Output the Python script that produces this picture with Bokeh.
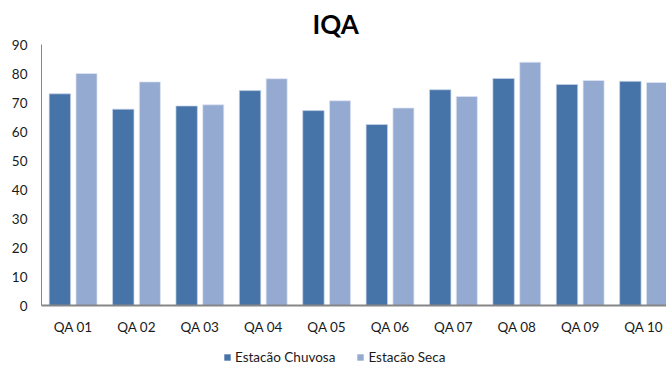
from bokeh.plotting import figure
from bokeh.layouts import column
from bokeh.models import Range1d, ColumnDataSource, Legend, LegendItem, FixedTicker
from bokeh.embed import file_html
from bokeh.resources import INLINE

categories = ["QA 01", "QA 02", "QA 03", "QA 04", "QA 05", "QA 06", "QA 07", "QA 08", "QA 09", "QA 10"]
chuvosa = [73.0, 67.7, 68.8, 74.1, 67.2, 62.4, 74.4, 78.3, 76.2, 77.3]
seca = [80.0, 77.1, 69.2, 78.2, 70.6, 68.1, 72.1, 83.9, 77.6, 76.9]
y_ticks = [0, 10, 20, 30, 40, 50, 60, 70, 80, 90]
series_names = ["Estacão Chuvosa", "Estacão Seca"]

FONT = "Lato"
TXT = "#1a1a1a"
C1, C2 = "#4673A8", "#95AAD1"

idx = list(range(len(categories)))
src = ColumnDataSource(dict(
    x1=[i + 0.29 for i in idx],
    x2=[i + 0.71 for i in idx],
    chuvosa=chuvosa,
    seca=seca,
))

p = figure(width=666, height=348, frame_width=625, frame_height=261,
           output_backend="svg", toolbar_location=None,
           x_range=Range1d(0, 9.86), y_range=Range1d(0, 90),
           min_border_left=41, min_border_right=0, min_border_top=44, min_border_bottom=43)
p.outline_line_color = None
p.grid.visible = False

p.title.text = "IQA"
p.title.align = "left"
p.title.text_font = FONT
p.title.text_font_size = "26px"
p.title.text_font_style = "bold"
p.title.text_color = "black"
p.title.offset = 271
p.title.standoff = 10

p.vbar(x="x1", top="chuvosa", width=0.338, source=src, fill_color=C1,
       line_color="#c9d5e8", line_width=1, line_alpha=0.7)
p.vbar(x="x2", top="seca", width=0.332, source=src, fill_color=C2,
       line_color="#dfe6f2", line_width=1, line_alpha=0.7)

p.yaxis.ticker = FixedTicker(ticks=y_ticks)
p.yaxis.axis_line_color = "#868686"
p.yaxis.major_tick_line_color = None
p.yaxis.minor_tick_line_color = None
p.yaxis.major_tick_out = 0
p.yaxis.major_label_text_font = FONT
p.yaxis.major_label_text_font_size = "13.5px"
p.yaxis.major_label_text_color = TXT
p.yaxis.major_label_standoff = 14

p.xaxis.ticker = FixedTicker(ticks=[i + 0.5 for i in idx])
p.xaxis.major_label_overrides = {i + 0.5: c for i, c in zip(idx, categories)}
p.xaxis.axis_line_color = "#868686"
p.xaxis.axis_line_width = 2
p.xaxis.major_tick_line_color = None
p.xaxis.minor_tick_line_color = None
p.xaxis.major_tick_out = 0
p.xaxis.major_label_text_font = FONT
p.xaxis.major_label_text_font_size = "13.5px"
p.xaxis.major_label_text_color = TXT
p.xaxis.major_label_standoff = 13

# legend strip below the chart
lg = figure(width=666, height=18, output_backend="svg", toolbar_location=None,
            x_range=Range1d(0, 1), y_range=Range1d(0, 1),
            min_border_left=0, min_border_right=0, min_border_top=0, min_border_bottom=0)
lg.outline_line_color = None
lg.grid.visible = False
lg.axis.visible = False
g1 = lg.vbar(x="x1", top="chuvosa", width=0.3, source=src, fill_color=C1, line_color=None, visible=False)
g2 = lg.vbar(x="x2", top="seca", width=0.3, source=src, fill_color=C2, line_color=None, visible=False)

legend = Legend(items=[LegendItem(label=series_names[0], renderers=[g1]),
                       LegendItem(label=series_names[1], renderers=[g2])],
                orientation="horizontal", location=(182, 1),
                label_text_font=FONT, label_text_font_size="13.5px", label_text_color=TXT,
                glyph_width=8, glyph_height=8, spacing=21, padding=0,
                margin=0, label_height=16, label_standoff=4,
                border_line_color=None, background_fill_alpha=0)
lg.add_layout(legend, "center")

layout = column(p, lg, spacing=0)
open("out.html", "w").write(file_html(layout, INLINE))
